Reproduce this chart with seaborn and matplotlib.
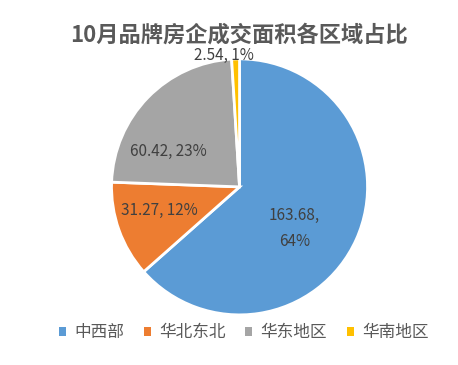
import numpy as np
import matplotlib
matplotlib.use("Agg")
import matplotlib.pyplot as plt
import seaborn as sns

categories = ["中西部", "华北东北", "华东地区", "华南地区"]
values = [163.68, 31.27, 60.42, 2.54]
percents = ["64%", "12%", "23%", "1%"]
value_labels = ["163.68", "31.27", "60.42", "2.54"]
colors = ["#5B9BD5", "#ED7D31", "#A5A5A5", "#FFC000"]

sns.set_theme(style="white")
plt.rcParams['font.family'] = ['Noto Sans CJK SC', 'DejaVu Sans']

fig = plt.figure(figsize=(4.58, 3.65), dpi=100)
ax = fig.add_axes([0.523 - 0.2795, 0.488 - 0.3507, 0.559, 0.7014])

wedges, _ = ax.pie(values, colors=colors, startangle=90, counterclock=False,
                   wedgeprops=dict(edgecolor="white", linewidth=2))
ax.set_xlim(-1, 1)
ax.set_ylim(-1, 1)

# label placement (radius fraction, angle offset in deg) per slice
label_texts = [f"{value_labels[0]},\n{percents[0]}",
               f"{value_labels[1]}, {percents[1]}",
               f"{value_labels[2]}, {percents[2]}",
               f"{value_labels[3]}, {percents[3]}"]
placement = [(0.54, -13), (0.65, -3), (0.62, 18), (1.03, 5)]
for w, txt, (r, off) in zip(wedges, label_texts, placement):
    ang = np.deg2rad((w.theta1 + w.theta2) / 2 + off)
    ax.text(r * np.cos(ang), r * np.sin(ang), txt, ha="center", va="center",
            fontsize=11, color="#404040", linespacing=1.7)

fig.text(0.522, 0.903, "10月品牌房企成交面积各区域占比", ha="center", va="center",
         fontsize=16, fontweight="bold", color="#595959")

leg = fig.legend(wedges, categories, loc="center", bbox_to_anchor=(0.532, 0.088),
                 ncol=4, frameon=False, fontsize=12, handlelength=0.4,
                 handleheight=0.4, handletextpad=0.5, columnspacing=1.2)
for t in leg.get_texts():
    t.set_color("#595959")
for h in leg.legend_handles:
    h.set_edgecolor("none")

fig.savefig("out.png", dpi=100)
